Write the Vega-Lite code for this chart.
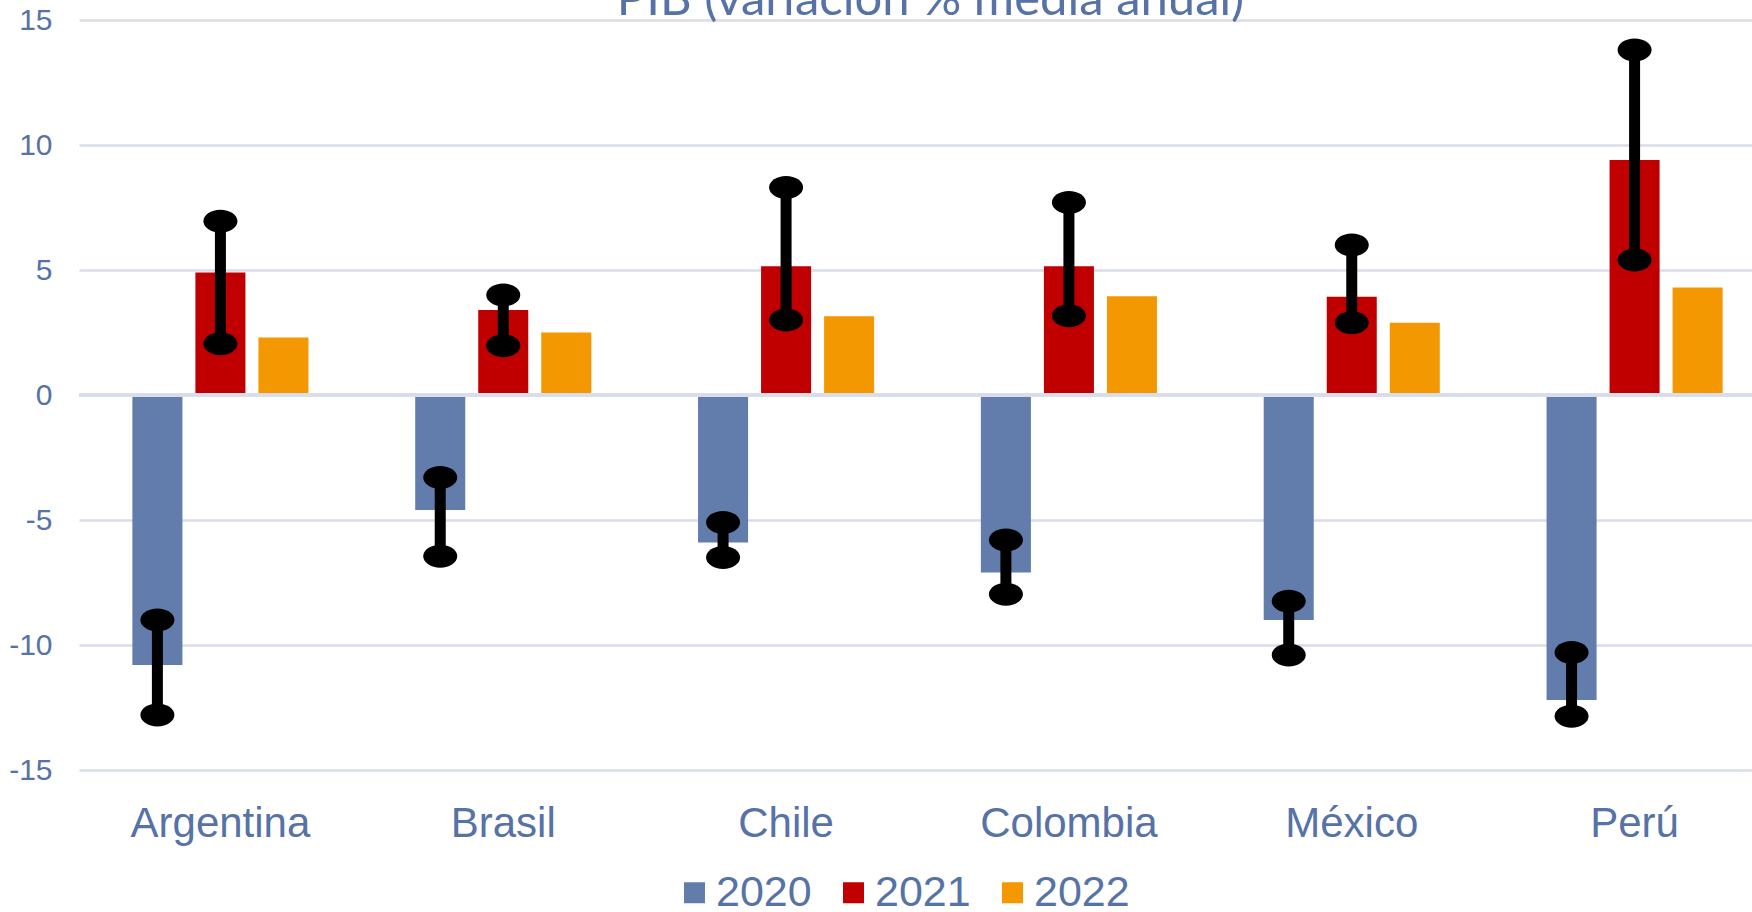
{
  "$schema": "https://vega.github.io/schema/vega-lite/v6.json",
  "width": 1673,
  "height": 750,
  "autosize": {"type": "none"},
  "padding": {"left": 79, "top": 20, "right": 0, "bottom": 142},
  "background": "white",
  "title": {
    "text": "PIB (variación % media anual)",
    "font": "Lato",
    "fontSize": 49,
    "fontWeight": "normal",
    "color": "#5672A6",
    "anchor": "middle",
    "baseline": "top",
    "offset": 0,
    "dx": 15,
    "dy": 20
  },
  "data": {
    "values": [
      {"pais": "Argentina", "anio": "2020", "valor": -10.8, "lo": -12.8, "hi": -9.0},
      {"pais": "Argentina", "anio": "2021", "valor": 4.9, "lo": 2.05, "hi": 6.95},
      {"pais": "Argentina", "anio": "2022", "valor": 2.3, "lo": null, "hi": null},
      {"pais": "Brasil", "anio": "2020", "valor": -4.6, "lo": -6.45, "hi": -3.3},
      {"pais": "Brasil", "anio": "2021", "valor": 3.4, "lo": 1.97, "hi": 4.0},
      {"pais": "Brasil", "anio": "2022", "valor": 2.5, "lo": null, "hi": null},
      {"pais": "Chile", "anio": "2020", "valor": -5.9, "lo": -6.5, "hi": -5.1},
      {"pais": "Chile", "anio": "2021", "valor": 5.15, "lo": 3.0, "hi": 8.3},
      {"pais": "Chile", "anio": "2022", "valor": 3.15, "lo": null, "hi": null},
      {"pais": "Colombia", "anio": "2020", "valor": -7.1, "lo": -7.97, "hi": -5.8},
      {"pais": "Colombia", "anio": "2021", "valor": 5.15, "lo": 3.17, "hi": 7.7},
      {"pais": "Colombia", "anio": "2022", "valor": 3.95, "lo": null, "hi": null},
      {"pais": "México", "anio": "2020", "valor": -9.0, "lo": -10.4, "hi": -8.25},
      {"pais": "México", "anio": "2021", "valor": 3.93, "lo": 2.89, "hi": 6.0},
      {"pais": "México", "anio": "2022", "valor": 2.89, "lo": null, "hi": null},
      {"pais": "Perú", "anio": "2020", "valor": -12.2, "lo": -12.85, "hi": -10.3},
      {"pais": "Perú", "anio": "2021", "valor": 9.4, "lo": 5.4, "hi": 13.8},
      {"pais": "Perú", "anio": "2022", "valor": 4.3, "lo": null, "hi": null}
    ]
  },
  "encoding": {
    "x": {
      "field": "pais",
      "type": "nominal",
      "sort": null,
      "scale": {"range": [0, 1697], "paddingInner": 0, "paddingOuter": 0},
      "axis": {
        "title": null,
        "labelAngle": 0,
        "labelFont": "Liberation Sans",
        "labelFontSize": 42,
        "labelColor": "#5672A6",
        "labelPadding": 33,
        "ticks": false,
        "domain": false
      }
    },
    "xOffset": {
      "field": "anio",
      "type": "nominal",
      "scale": {"domain": ["2020", "2021", "2022"], "paddingInner": 0.206, "paddingOuter": 0.847}
    }
  },
  "layer": [
    {
      "mark": {"type": "bar"},
      "encoding": {
        "y": {
          "field": "valor",
          "type": "quantitative",
          "scale": {"domain": [-15, 15], "nice": false},
          "axis": {
            "title": null,
            "values": [-15, -10, -5, 0, 5, 10, 15],
            "labelExpr": "'' + datum.value",
            "labelFont": "Liberation Sans",
            "labelFontSize": 30,
            "labelColor": "#5672A6",
            "labelPadding": 27,
            "ticks": false,
            "domain": false,
            "grid": true,
            "gridColor": "#D9DDEA",
            "gridWidth": 2.5,
            "zindex": 0
          }
        },
        "color": {
          "field": "anio",
          "type": "nominal",
          "scale": {"domain": ["2020", "2021", "2022"], "range": ["#627DAC", "#C00000", "#F39800"]},
          "legend": {
            "title": null,
            "orient": "none",
            "legendX": 594,
            "legendY": 851,
            "direction": "horizontal",
            "symbolType": "square",
            "symbolSize": 441,
            "symbolStrokeWidth": 0,
            "symbolOpacity": 1,
            "labelFont": "Liberation Sans",
            "labelFontSize": 43,
            "labelColor": "#5672A6",
            "labelOffset": 0,
            "columnPadding": 20
          }
        }
      }
    },
    {
      "mark": {"type": "rule", "color": "#D9DDEA", "strokeWidth": 3},
      "encoding": {"y": {"datum": 0, "type": "quantitative"}, "x": null, "xOffset": null}
    },
    {
      "transform": [{"filter": "datum.lo != null"}],
      "mark": {"type": "rule", "color": "black", "strokeWidth": 11},
      "encoding": {
        "y": {"field": "lo", "type": "quantitative"},
        "y2": {"field": "hi"}
      }
    },
    {
      "transform": [{"filter": "datum.lo != null"}],
      "mark": {
        "type": "point",
        "shape": "M -1 0 A 1 0.67 0 1 0 1 0 A 1 0.67 0 1 0 -1 0 Z",
        "size": 1156,
        "filled": true,
        "opacity": 1,
        "color": "black"
      },
      "encoding": {"y": {"field": "lo", "type": "quantitative"}}
    },
    {
      "transform": [{"filter": "datum.lo != null"}],
      "mark": {
        "type": "point",
        "shape": "M -1 0 A 1 0.67 0 1 0 1 0 A 1 0.67 0 1 0 -1 0 Z",
        "size": 1156,
        "filled": true,
        "opacity": 1,
        "color": "black"
      },
      "encoding": {"y": {"field": "hi", "type": "quantitative"}}
    }
  ],
  "config": {
    "view": {"stroke": null}
  }
}
